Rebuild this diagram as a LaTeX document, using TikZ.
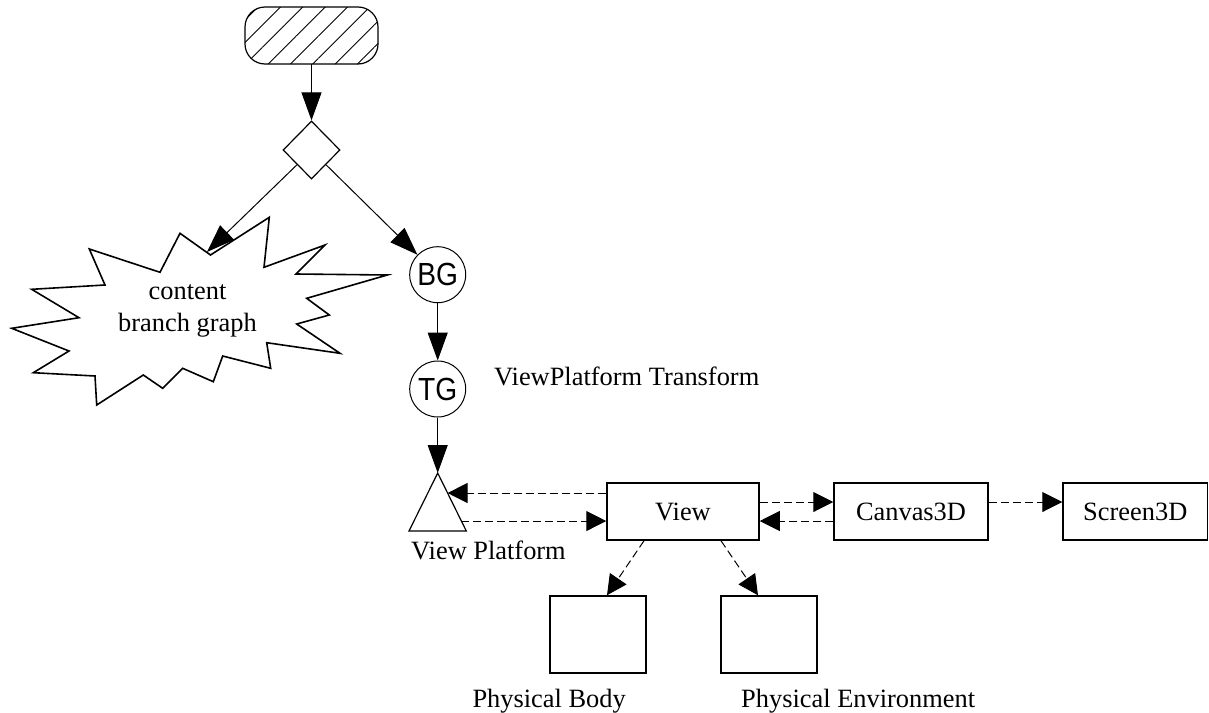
\documentclass[tikz,border=0pt]{standalone}
\usepackage{fontspec}
\setmainfont{Liberation Serif}
\newfontfamily\sansf{Liberation Sans}
\usetikzlibrary{arrows.meta,shapes.geometric,patterns.meta,calc}
\tikzset{
  txt/.style={font=\fontsize{26.4}{31.5}\selectfont, inner sep=0pt},
  sanslbl/.style={font=\sansf\fontsize{32}{36}\selectfont},
  boxnode/.style={draw, line width=1.5pt, inner sep=0pt, minimum height=57pt, font=\fontsize{26.4}{31.5}\selectfont},
  circnode/.style={draw, circle, line width=1pt, inner sep=0pt, minimum size=56pt, sanslbl},
  solidarrow/.style={line width=1pt, -{Triangle[length=28pt,width=20pt]}},
  dasharrow/.style={line width=1pt, dash pattern=on 8pt off 4pt, -{Triangle[length=20pt,width=20pt]}},
  plainline/.style={line width=1pt},
}
\begin{document}
\begin{tikzpicture}[x=1pt,y=-1pt]
\useasboundingbox (0,0) rectangle (1209,712);
% start terminator
\node[draw, line width=1.2pt, rounded corners=20pt, minimum width=133pt, minimum height=57pt,
      inner sep=0pt, pattern={Lines[angle=45,distance=15.8pt,line width=0.9pt]}] (start) at (311.5,35.5) {};
% decision diamond
\node[draw, diamond, line width=1.2pt, inner sep=0pt, minimum width=57pt, minimum height=58pt] (dec) at (311.5,150) {};
\draw[solidarrow] (start.south) -- (dec.north);
% content branch graph star
\draw[line width=1.6pt, line join=miter] (269.3,217.3) -- (264,267.3) -- (325,245) -- (296,274) -- (387.3,275) -- (306.7,298.3) -- (329.3,315) -- (296.7,324) -- (340,353.3) -- (266.7,342.7) -- (270.7,368.3) -- (222.7,356) -- (213.3,381.7) -- (182.7,368.3) -- (162.7,388.3) -- (143.3,375) -- (96.7,405) -- (95,376) -- (33.3,372.7) -- (69,351) -- (11.7,328.3) -- (79,317.7) -- (31.7,289.3) -- (105,285) -- (89.3,249) -- (160,272.3) -- (180,233.3) -- (210.5,255) -- cycle;
\node[txt, align=center] (cbg) at (187.5,311) {content\\branch graph};
\coordinate (starTip) at (207,252);
\draw[solidarrow] (dec.south west) -- (starTip);
% BG and TG
\node[circnode] (BG) at (437.7,274.7) {\scalebox{0.88}[1]{BG}};
\node[circnode] (TG) at (437.7,389) {\scalebox{0.88}[1]{TG}};
\draw[solidarrow] (dec.south east) -- (BG);
\draw[solidarrow] (BG) -- (TG);
\node[txt, anchor=base west] (vpt) at (494,385) {ViewPlatform Transform};
% view platform triangle
\coordinate (vpApex) at (437.7,473);
\coordinate (vpR) at (466.3,531);
\coordinate (vpL) at (409,531);
\draw[line width=1.2pt, line join=miter] (vpApex) -- (vpR) -- (vpL) -- cycle;
\coordinate (vpIn) at ($(vpApex)!0.345!(vpR)$);
\coordinate (vpOut) at ($(vpApex)!0.828!(vpR)$);
\draw[solidarrow] (TG) -- (vpApex);
\node[txt, anchor=base] (vplbl) at (488.5,559) {View Platform};
% boxes
\node[boxnode, minimum width=152pt] (View) at (683,511.5) {View};
\node[boxnode, minimum width=154pt] (Canvas) at (911,511.5) {Canvas3D};
\node[boxnode, minimum width=144.5pt] (Screen) at (1135.25,511.5) {Screen3D};
\node[boxnode, minimum width=96pt, minimum height=77pt] (PB) at (598,634.5) {};
\node[boxnode, minimum width=96pt, minimum height=77pt] (PE) at (769,634.5) {};
\node[txt, anchor=base east] (pblbl) at (626,707) {Physical Body};
\node[txt, anchor=base west] (pelbl) at (741,707) {Physical Environment};
% dashed connectors
\draw[dasharrow] (View.west |- vpIn) -- (vpIn);
\draw[dasharrow] (vpOut) -- (View.west |- vpOut);
\draw[dasharrow] ([yshift=9.5pt]View.east) -- ([yshift=9.5pt]Canvas.west);
\draw[dasharrow] ([yshift=-9.5pt]Canvas.west) -- ([yshift=-9.5pt]View.east);
\draw[dasharrow] ([yshift=9.5pt]Canvas.east) -- ([yshift=9.5pt]Screen.west);
\draw[dasharrow] ([xshift=-39pt]View.south) -- ([xshift=9pt]PB.north);
\draw[dasharrow] ([xshift=38pt]View.south) -- ([xshift=-11pt]PE.north);
\end{tikzpicture}
\end{document}
